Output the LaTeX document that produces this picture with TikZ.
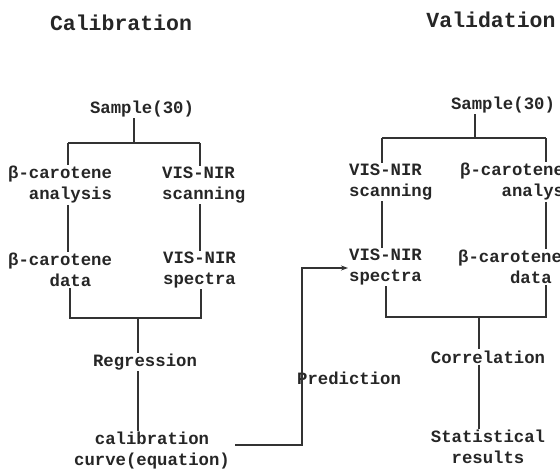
\documentclass[tikz,border=0pt]{standalone}
\usepackage{fontspec}
\setmonofont{Liberation Mono}
\usetikzlibrary{arrows.meta}
\begin{document}
\begin{tikzpicture}[x=1pt,y=-1pt,
  txt/.style={font=\ttfamily\bfseries\fontsize{17.3}{21}\selectfont, inner sep=1pt, align=center, text=black!85},
  ltxt/.style={txt, align=left, anchor=west},
  ttl/.style={font=\ttfamily\bfseries\fontsize{21.5}{26}\selectfont, inner sep=0pt, text=black!85},
  ln/.style={line width=1.2pt, draw=black!80},
  arr/.style={ln, -{Stealth[length=7pt,width=5pt]}}]
\useasboundingbox (0,0) rectangle (560,471);
\clip (0,0) rectangle (560,471);
% titles
\node[ttl] (calT) at (121,23) {Calibration};
\node[ttl] (valT) at (491,20) {Validation};
% calibration side
\node[txt] (sampL) at (142,109) {Sample(30)};
\node[ltxt] (anaL) at (7,185) {β-carotene\\\hphantom{xx}analysis};
\node[ltxt] (scanL) at (161,185) {VIS-NIR\\scanning};
\node[ltxt] (dataL) at (7,270) {β-carotene\\\hphantom{xxxx}data};
\node[ltxt] (specL) at (162,270) {VIS-NIR\\spectra};
\node[txt] (regL) at (145,362) {Regression};
\node[txt] (calL) at (152,451) {calibration\\curve(equation)};
\node[txt, anchor=west] (predL) at (296,378) {Prediction};
% validation side
\node[txt] (sampR) at (503,105) {Sample(30)};
\node[ltxt] (scanR) at (348,182) {VIS-NIR\\scanning};
\node[ltxt] (anaR) at (459,182) {β-carotene\\\hphantom{xxxx}analysis};
\node[ltxt] (specR) at (348,267) {VIS-NIR\\spectra};
\node[ltxt] (dataR) at (457,267) {β-carotene\\\hphantom{xxxxx}data};
\node[txt] (corrR) at (488,357) {Correlation};
\node[txt] (statR) at (488,447) {Statistical\\results};
% calibration connectors
\coordinate (aL) at (134,143);
\coordinate (bL) at (68,143);
\coordinate (cL) at (200,143);
\draw[ln] (sampL.south -| aL) -- (aL);
\draw[ln] (bL) -- (cL);
\draw[ln] (bL) -- (anaL.north -| bL);
\draw[ln] (cL) -- (scanL.north -| cL);
\draw[ln] (anaL.south -| bL) -- (dataL.north -| bL);
\draw[ln] (scanL.south -| cL) -- (specL.north -| cL);
\coordinate (dL) at (70,318);
\coordinate (eL) at (201,318);
\coordinate (fL) at (138,318);
\draw[ln] (dataL.south -| dL) -- (dL) -- (eL) -- (specL.south -| eL);
\draw[ln] (fL) -- (regL.north -| fL);
\draw[ln] (regL.south -| fL) -- (calL.north -| fL);
% prediction
\coordinate (p1) at (302,445);
\coordinate (p2) at (302,268);
\draw[arr] ([xshift=4pt,yshift=6pt]calL.east) -- (p1) -- (p2) -- (specR.west |- p2);
% validation connectors
\coordinate (aR) at (475,138);
\coordinate (bR) at (382,138);
\coordinate (cR) at (546,138);
\draw[ln] (sampR.south -| aR) -- (aR);
\draw[ln] (bR) -- (cR);
\draw[ln] (bR) -- (scanR.north -| bR);
\draw[ln] (cR) -- (anaR.north -| cR);
\draw[ln] (scanR.south -| bR) -- (specR.north -| bR);
\draw[ln] (anaR.south -| cR) -- (dataR.north -| cR);
\coordinate (dR) at (386,317);
\coordinate (eR) at (546,317);
\coordinate (fR) at (479,317);
\draw[ln] (specR.south -| dR) -- (dR) -- (eR) -- (dataR.south -| eR);
\draw[ln] (fR) -- (corrR.north -| fR);
\draw[ln] (corrR.south -| fR) -- (statR.north -| fR);
\end{tikzpicture}
\end{document}
